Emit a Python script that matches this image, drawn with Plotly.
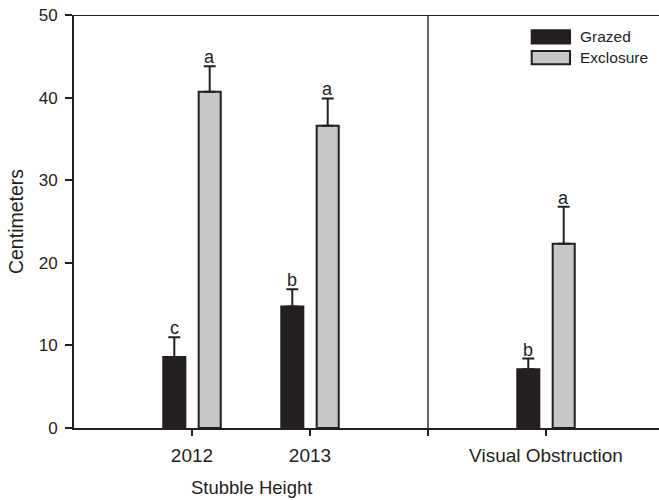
import plotly.graph_objects as go

# ---- data ----
categories = ["2012", "2013", "Visual Obstruction"]
grazed = [8.6, 14.7, 7.1]
grazed_err = [2.4, 2.1, 1.3]
exclosure = [40.7, 36.6, 22.3]
exclosure_err = [3.1, 3.3, 4.5]
grazed_letters = ["c", "b", "b"]
exclosure_letters = ["a", "a", "a"]
y_ticks = [0, 10, 20, 30, 40, 50]

# category positions on numeric axis (slot 3 is the section divider)
pos_map = {"2012": 1, "2013": 2, "Visual Obstruction": 4}
xpos = [pos_map[c] for c in categories]

FONT = "Liberation Sans, Arial, sans-serif"
DARK = "#231f20"
GREY = "#c6c7c8"

fig = go.Figure()
fig.add_trace(go.Bar(
    x=xpos, y=grazed, name="Grazed",
    marker=dict(color=DARK, line=dict(color=DARK, width=2)),
    error_y=dict(type="data", array=grazed_err, arrayminus=[0] * len(grazed),
                 symmetric=False, color=DARK, thickness=2, width=6),
    showlegend=False,
))
fig.add_trace(go.Bar(
    x=xpos, y=exclosure, name="Exclosure",
    marker=dict(color=GREY, line=dict(color=DARK, width=2)),
    error_y=dict(type="data", array=exclosure_err, arrayminus=[0] * len(exclosure),
                 symmetric=False, color=DARK, thickness=2, width=6),
    showlegend=False,
))

annotations = []
off = 0.15
for x, v, e, t in zip(xpos, grazed, grazed_err, grazed_letters):
    annotations.append(dict(x=x - off, y=v + e, text=t, showarrow=False, xref="x", yref="y",
                            yanchor="bottom", yshift=-3, font=dict(size=18, color=DARK, family=FONT)))
for x, v, e, t in zip(xpos, exclosure, exclosure_err, exclosure_letters):
    annotations.append(dict(x=x + off, y=v + e, text=t, showarrow=False, xref="x", yref="y",
                            yanchor="bottom", yshift=-3, font=dict(size=18, color=DARK, family=FONT)))

# x-axis group title
annotations.append(dict(x=1.5, y=-0.145, xref="x", yref="paper", text="Stubble Height",
                        showarrow=False, yanchor="middle",
                        font=dict(size=18.5, color=DARK, family=FONT)))

# custom legend
leg = [("Grazed", DARK, 0.9308, 0.9630), ("Exclosure", GREY, 0.8806, 0.9128)]
shapes = []
for name, col, y0, y1 in leg:
    shapes.append(dict(type="rect", xref="paper", yref="paper", x0=0.7824, x1=0.8479,
                       y0=y0, y1=y1, fillcolor=col, line=dict(color=DARK, width=2)))
    annotations.append(dict(x=0.8615, y=(y0 + y1) / 2, xref="paper", yref="paper", text=name,
                            showarrow=False, xanchor="left", yanchor="middle",
                            font=dict(size=15.5, color=DARK, family=FONT)))

# section divider and top border
shapes.append(dict(type="line", xref="x", yref="y", x0=3, x1=3, y0=0, y1=50,
                   line=dict(color="#333333", width=1.5)))
shapes.append(dict(type="line", xref="paper", yref="y", x0=0, x1=1, y0=50, y1=50,
                   line=dict(color=DARK, width=2)))

fig.update_layout(
    width=659, height=500,
    margin=dict(l=74, r=0, t=15, b=72, autoexpand=False),
    paper_bgcolor="white", plot_bgcolor="white",
    barmode="group", bargap=0.4, bargroupgap=0.377,
    font=dict(family=FONT, color=DARK),
    annotations=annotations, shapes=shapes,
    xaxis=dict(range=[0, 585 / 118], tickvals=[1, 2, 3, 4],
               ticktext=["2012", "2013", "", "Visual Obstruction"],
               ticks="outside", ticklen=6, tickwidth=2, tickcolor=DARK,
               showline=True, linecolor=DARK, linewidth=2, showgrid=False, zeroline=False,
               tickfont=dict(size=19, family=FONT, color=DARK), ticklabelstandoff=3),
    yaxis=dict(range=[0, 50], tickvals=y_ticks, ticks="outside", ticklen=7, tickwidth=2,
               tickcolor=DARK, showline=True, linecolor=DARK, linewidth=2, showgrid=False,
               zeroline=False, tickfont=dict(size=17, family=FONT, color=DARK),
               ticklabelstandoff=4, ticklabeloverflow="allow",
               title=dict(text="Centimeters", font=dict(size=19.5, family=FONT, color=DARK),
                          standoff=10)),
)

# remove the default 8px page margin so the figure fills the window exactly
fig.write_html("out.html", config={"displayModeBar": False},
               post_script="document.body.style.margin='0';")
